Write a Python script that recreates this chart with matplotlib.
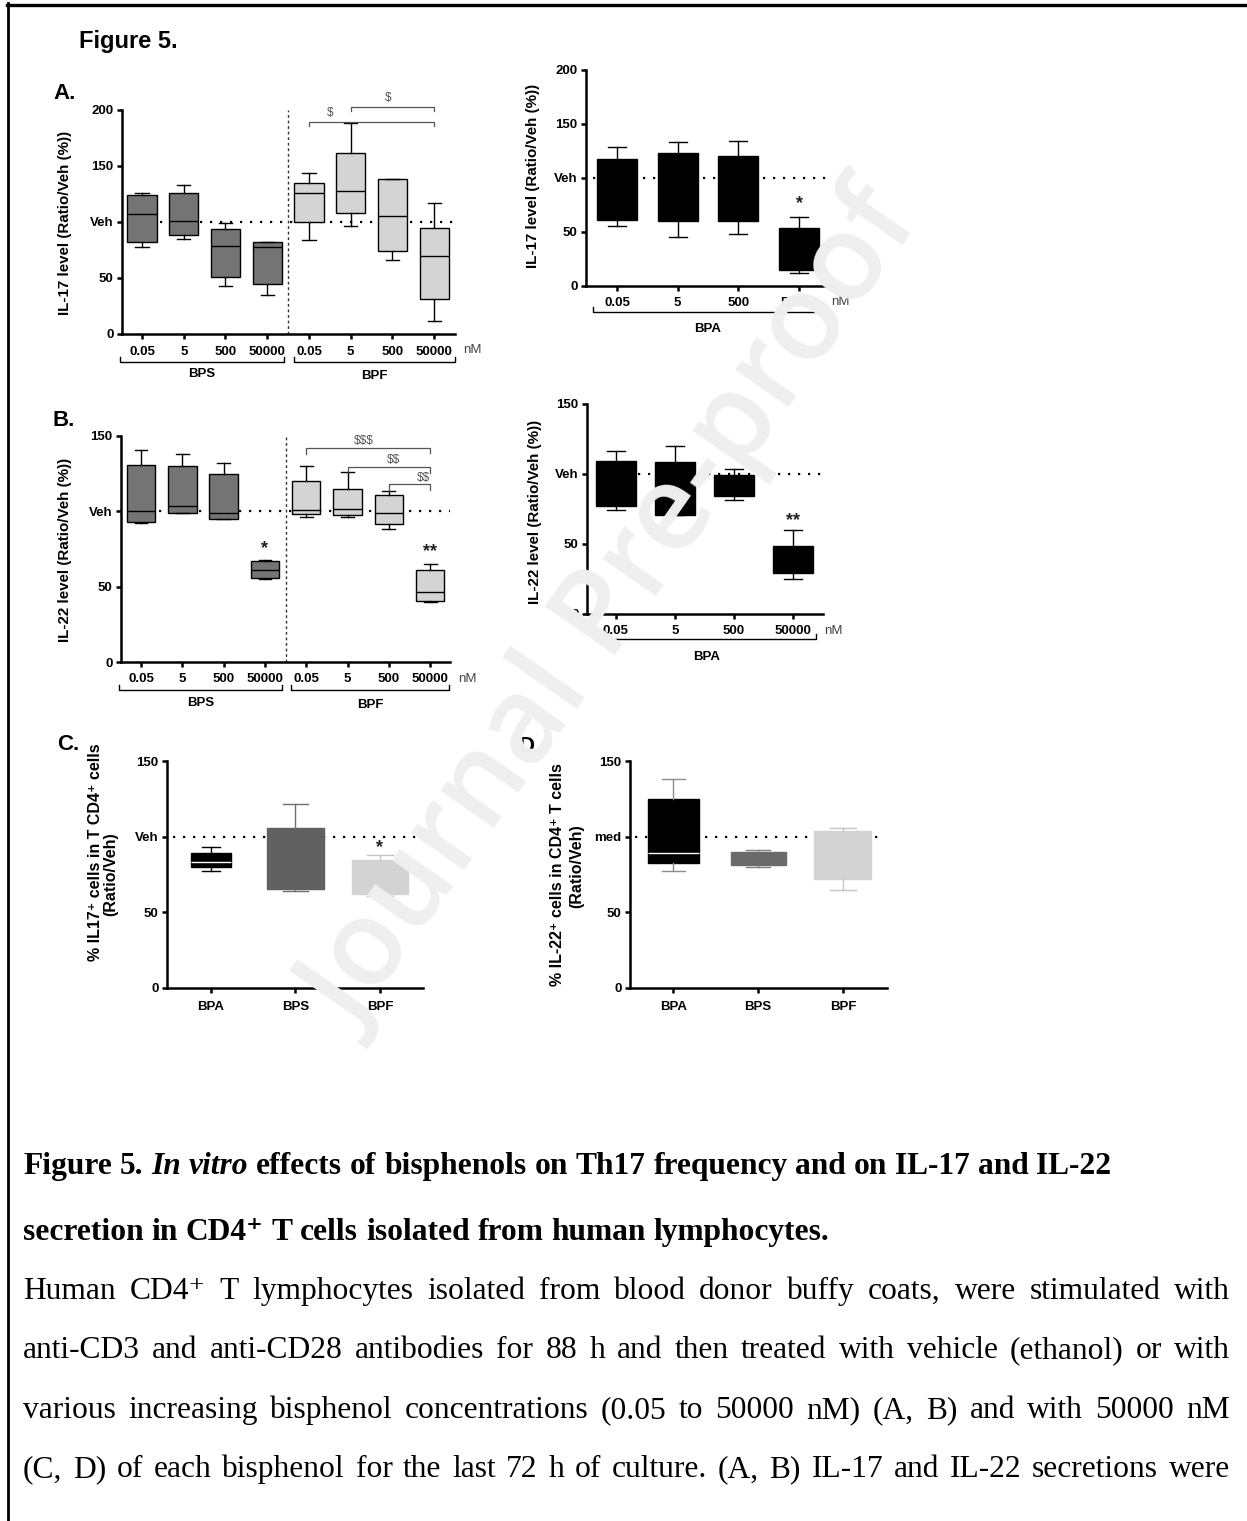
import matplotlib
matplotlib.use('Agg')
import matplotlib.pyplot as plt
import matplotlib.transforms as mtransforms
from matplotlib.lines import Line2D

# ---------------- data ----------------
conc_labels = ['0.05', '5', '500', '50000']
groups_C = ['BPA', 'BPS', 'BPF']

# Panel A: IL-17 (Ratio/Veh %), BPS and BPF
A_BPS_lo = [78, 85, 43, 35]
A_BPS_q1 = [82, 88, 51, 45]
A_BPS_med = [107, 101, 79, 78]
A_BPS_q3 = [124, 126, 94, 82]
A_BPS_hi = [126, 133, 99, 82]

A_BPF_lo = [84, 96, 66, 12]
A_BPF_q1 = [100, 108, 74, 31]
A_BPF_med = [126, 128, 105, 70]
A_BPF_q3 = [135, 162, 138, 95]
A_BPF_hi = [144, 188, 138, 117]

# Panel A right: IL-17, BPA
A_BPA_lo = [56, 45, 48, 12.5]
A_BPA_q1 = [61, 60, 60, 14.5]
A_BPA_med = [95, 92, 94, 30]
A_BPA_q3 = [118, 123, 120, 54]
A_BPA_hi = [129, 133, 134, 64]

# Panel B: IL-22, BPS and BPF
B_BPS_lo = [92, 99, 95, 55]
B_BPS_q1 = [93, 99, 95, 56]
B_BPS_med = [100, 103.5, 99, 61]
B_BPS_q3 = [131, 130, 125, 67]
B_BPS_hi = [141, 138, 132, 68]

B_BPF_lo = [96.5, 96, 88, 39.5]
B_BPF_q1 = [98, 97.5, 91.5, 40.3]
B_BPF_med = [101, 101.5, 98.7, 46.7]
B_BPF_q3 = [120.4, 115, 110.8, 60.8]
B_BPF_hi = [130, 126, 113.7, 65]

# Panel B right: IL-22, BPA
B_BPA_lo = [74, 70.4, 81.6, 25]
B_BPA_q1 = [77.5, 70.4, 84, 29.6]
B_BPA_med = [95, 90, 92, 38]
B_BPA_q3 = [109.5, 108.5, 99.2, 48.4]
B_BPA_hi = [116.4, 119.7, 103.7, 60.3]

# Panel C: % IL17+ cells
C_lo = [77, 64, 61]
C_q1 = [79.7, 65.2, 62]
C_med = [83, 66, 75]
C_q3 = [89.4, 105.5, 84.8]
C_hi = [93.4, 121.8, 88]

# Panel D: % IL-22+ cells
D_lo = [77, 79.7, 64.8]
D_q1 = [82.4, 81, 72.3]
D_med = [89.4, 85, 90]
D_q3 = [125.2, 89.6, 103.7]
D_hi = [138.4, 91, 106]

# significance annotations: (x_start, x_end, bracket_y, left_drop, right_drop, text, text_x)
A_sig = [(5, 8, 189.6, 186, 186, '$', 5.5), (6, 8, 203, 199, 199, '$', 6.9)]
B_sig = [(5, 8, 142, 138, 138.7, '$$$', 6.4), (6, 8, 129.4, 126, 125.4, '$$', 7.1),
         (7, 8, 117.9, 113.7, 114, '$$', 7.85)]

# ---------------- figure ----------------
W, H = 1247, 1521
fig = plt.figure(figsize=(W / 100, H / 100), dpi=100)
fig.patch.set_facecolor('white')

SANS = ['Liberation Sans', 'DejaVu Sans']
SERIF = ['Liberation Serif', 'DejaVu Serif']


def fx(px):
    return px / W


def fy(py):
    return 1 - py / H


DARK = '#747474'
LIGHT = '#d4d4d4'


def make_ax(x0, x1, ytop, ybot, xlim, ylim, yticks, yticklabels):
    ax = fig.add_axes([fx(x0), fy(ybot), fx(x1) - fx(x0), fy(ytop) - fy(ybot)])
    ax.set_xlim(*xlim)
    ax.set_ylim(*ylim)
    for s in ['top', 'right']:
        ax.spines[s].set_visible(False)
    for s in ['left', 'bottom']:
        ax.spines[s].set_linewidth(1.8)
    ax.set_yticks(yticks)
    ax.set_yticklabels(yticklabels, fontfamily=SANS, fontweight='bold', fontsize=9.5)
    ax.tick_params(axis='both', direction='out', length=3.6, width=1.8, pad=2.5)
    ax.patch.set_alpha(0)
    return ax


def draw_box(ax, pos, lo, q1, med, q3, hi, face, edge, medc, whc, width, lw=1.0):
    stats = [dict(whislo=lo, q1=q1, med=med, q3=q3, whishi=hi, fliers=[])]
    ax.bxp(stats, positions=[pos], widths=width, patch_artist=True, showfliers=False,
           capwidths=width * 0.45, manage_ticks=False, zorder=3,
           boxprops=dict(facecolor=face, edgecolor=edge, linewidth=lw),
           medianprops=dict(color=medc, linewidth=lw, solid_capstyle='butt'),
           whiskerprops=dict(color=whc, linewidth=lw),
           capprops=dict(color=whc, linewidth=lw))


def xlabels(ax, xs, labels, ypx, **kw):
    tr = mtransforms.blended_transform_factory(ax.transData, fig.transFigure)
    ax.set_xticks(xs)
    ax.set_xticklabels([])
    for x, l in zip(xs, labels):
        ax.text(x, fy(ypx), l, transform=tr, ha='center', va='center', clip_on=False,
                fontfamily=SANS, fontweight='bold', fontsize=9.5, **kw)


def group_bracket(ax, xa, xb, ypx, label, label_ypx, up=5):
    tr = mtransforms.blended_transform_factory(ax.transData, fig.transFigure)
    ax.plot([xa, xa, xb, xb], [fy(ypx - up), fy(ypx), fy(ypx), fy(ypx - up)], transform=tr,
            color='black', lw=1.0, clip_on=False)
    ax.text((xa + xb) / 2, fy(label_ypx), label, transform=tr, ha='center', va='center',
            fontfamily=SANS, fontweight='bold', fontsize=9.5, clip_on=False)


def unit_label(ax, x, ypx, text='nM'):
    tr = mtransforms.blended_transform_factory(ax.transData, fig.transFigure)
    ax.text(x, fy(ypx), text, transform=tr, ha='center', va='center', fontfamily=SANS,
            fontsize=9.5, color='#444444', clip_on=False)


def veh_line(ax, x0, x1, y=100):
    ax.plot([x0, x1], [y, y], color='black', lw=1.6, ls=(0, (1, 3.5)), clip_on=False, zorder=1)


def sig(ax, items, off_pts, color='#555555'):
    for xa, xb, y, ya, yb, t, tx in items:
        ax.plot([xa, xa, xb, xb], [ya, y, y, yb], color=color, lw=0.9, clip_on=False, zorder=4)
        ax.annotate(t, (tx, y), xytext=(0, off_pts), textcoords='offset points', ha='center',
                    va='center', fontsize=8.5, color=color, fontfamily=SANS,
                    annotation_clip=False, parse_math=False)


def star(ax, x, y, t):
    ax.text(x, y, t, ha='center', va='center', fontsize=13, fontfamily=SANS,
            fontweight='bold', color='#222222', clip_on=False)


pos8 = [1, 2, 3, 4, 5, 6, 7, 8]
pos4 = [1, 2, 3, 4]
pos3 = [1, 2, 3]

# ---- Panel A left ----
axA = make_ax(122, 455, 110, 334, (0.52, 8.5), (0, 200), [0, 50, 100, 150, 200],
              ['0', '50', 'Veh', '150', '200'])
veh_line(axA, 0.7, 8.63)
for i in range(4):
    draw_box(axA, pos8[i], A_BPS_lo[i], A_BPS_q1[i], A_BPS_med[i], A_BPS_q3[i], A_BPS_hi[i],
             DARK, 'black', 'black', 'black', 0.7)
    draw_box(axA, pos8[i + 4], A_BPF_lo[i], A_BPF_q1[i], A_BPF_med[i], A_BPF_q3[i], A_BPF_hi[i],
             LIGHT, 'black', 'black', 'black', 0.7)
axA.axvline(4.5, color='#333333', lw=1.0, ls=(0, (2, 2)), zorder=1)
xlabels(axA, pos8, conc_labels + conc_labels, 352)
group_bracket(axA, 0.47, 4.4, 362, 'BPS', 374)
group_bracket(axA, 4.63, 8.5, 362, 'BPF', 376)
unit_label(axA, 8.91, 350)
sig(axA, A_sig, 6.5)

# ---- Panel A right ----
axAr = make_ax(586, 833, 70, 286, (0.49, 4.56), (0, 200), [0, 50, 100, 150, 200],
               ['0', '50', 'Veh', '150', '200'])
veh_line(axAr, 0.6, 4.48)
for i in range(4):
    draw_box(axAr, pos4[i], A_BPA_lo[i], A_BPA_q1[i], A_BPA_med[i], A_BPA_q3[i], A_BPA_hi[i],
             'black', 'black', 'black', 'black', 0.66)
xlabels(axAr, pos4, conc_labels, 303)
group_bracket(axAr, 0.6, 4.4, 312, 'BPA', 329)
unit_label(axAr, 4.68, 302)
star(axAr, 4, 76, '*')

# ---- Panel B left ----
axB = make_ax(121, 450, 436, 662, (0.516, 8.48), (0, 150), [0, 50, 100, 150],
              ['0', '50', 'Veh', '150'])
veh_line(axB, 0.7, 8.48)
for i in range(4):
    draw_box(axB, pos8[i], B_BPS_lo[i], B_BPS_q1[i], B_BPS_med[i], B_BPS_q3[i], B_BPS_hi[i],
             DARK, 'black', 'black', 'black', 0.69)
    draw_box(axB, pos8[i + 4], B_BPF_lo[i], B_BPF_q1[i], B_BPF_med[i], B_BPF_q3[i], B_BPF_hi[i],
             LIGHT, 'black', 'black', 'black', 0.69)
axB.axvline(4.5, color='#333333', lw=1.0, ls=(0, (2, 2)), zorder=1)
xlabels(axB, pos8, conc_labels + conc_labels, 679)
group_bracket(axB, 0.47, 4.41, 690, 'BPS', 703)
group_bracket(axB, 4.63, 8.46, 690, 'BPF', 705)
unit_label(axB, 8.89, 679)
sig(axB, B_sig, 4.8)
star(axB, 4, 75, '*')
star(axB, 8, 73.5, '**')

# ---- Panel B right ----
axBr = make_ax(587, 823, 404, 614, (0.51, 4.51), (0, 150), [0, 50, 100, 150],
               ['0', '50', 'Veh', '150'])
veh_line(axBr, 0.7, 4.47)
for i in range(4):
    draw_box(axBr, pos4[i], B_BPA_lo[i], B_BPA_q1[i], B_BPA_med[i], B_BPA_q3[i], B_BPA_hi[i],
             'black', 'black', 'black', 'black', 0.68)
xlabels(axBr, pos4, conc_labels, 631)
group_bracket(axBr, 0.68, 4.39, 639, 'BPA', 657)
unit_label(axBr, 4.68, 631)
star(axBr, 4, 66.5, '**')

# ---- Panel C ----
axC = make_ax(167, 423, 761, 988, (0.48, 3.51), (0, 150), [0, 50, 100, 150],
              ['0', '50', 'Veh', '150'])
veh_line(axC, 0.55, 3.51)
C_face = ['black', '#606060', '#d3d3d3']
C_med_col = ['white', '#606060', '#d3d3d3']
C_wh_col = ['black', '#707070', '#c4c4c4']
C_width = [0.47, 0.67, 0.67]
for i in range(3):
    draw_box(axC, pos3[i], C_lo[i], C_q1[i], C_med[i], C_q3[i], C_hi[i],
             C_face[i], C_face[i], C_med_col[i], C_wh_col[i], C_width[i])
xlabels(axC, pos3, groups_C, 1007)
star(axC, 3, 93, '*')

# ---- Panel D ----
axD = make_ax(630, 887, 761, 988, (0.49, 3.52), (0, 150), [0, 50, 100, 150],
              ['0', '50', 'med', '150'])
veh_line(axD, 0.55, 3.47)
D_face = ['black', '#6a6a6a', '#d3d3d3']
D_med_col = ['white', '#6a6a6a', '#d3d3d3']
D_wh_col = ['#8c8c8c', '#808080', '#c4c4c4']
D_width = [0.6, 0.65, 0.67]
for i in range(3):
    draw_box(axD, pos3[i], D_lo[i], D_q1[i], D_med[i], D_q3[i], D_hi[i],
             D_face[i], D_face[i], D_med_col[i], D_wh_col[i], D_width[i])
xlabels(axD, pos3, groups_C, 1007)

# ---- y labels ----
ylab_kw = dict(rotation=90, ha='center', va='center', fontfamily=SANS, fontweight='bold', fontsize=10.9)
ylab2_kw = dict(ylab_kw, fontsize=11.5)
fig.text(fx(65), fy(223), 'IL-17 level (Ratio/Veh (%))', **ylab_kw)
fig.text(fx(533), fy(176), 'IL-17 level (Ratio/Veh (%))', **ylab_kw)
fig.text(fx(65), fy(550), 'IL-22 level (Ratio/Veh (%))', **ylab_kw)
fig.text(fx(535), fy(512), 'IL-22 level (Ratio/Veh (%))', **ylab_kw)
fig.text(fx(95), fy(852), '% IL17⁺ cells in T CD4⁺ cells', **ylab2_kw)
fig.text(fx(111), fy(874), '(Ratio/Veh)', **ylab2_kw)
fig.text(fx(557), fy(875), '% IL-22⁺ cells in CD4⁺ T cells', **ylab2_kw)
fig.text(fx(577), fy(866), '(Ratio/Veh)', **ylab2_kw)

# ---- panel letters ----
plab = dict(ha='left', va='baseline', fontfamily=SANS, fontweight='bold', fontsize=16)
fig.text(fx(79), fy(48), 'Figure 5.', ha='left', va='baseline', fontfamily=SANS,
         fontweight='bold', fontsize=17)
fig.text(fx(53), fy(99), 'A.', **plab)
fig.text(fx(53), fy(426), 'B.', **plab)
fig.text(fx(57), fy(750), 'C.', **plab)
fig.text(fx(518), fy(752), 'D.', **plab)

# ---- caption ----
renderer = fig.canvas.get_renderer()
CAP_FS = 22.7


def style_kw(st):
    kw = dict(fontfamily=SERIF, fontsize=CAP_FS, parse_math=False)
    if 'b' in st:
        kw['fontweight'] = 'bold'
    if 'i' in st:
        kw['fontstyle'] = 'italic'
    return kw


def measure(s, st):
    t = fig.text(0, 0, s, **style_kw(st))
    w = t.get_window_extent(renderer).width
    t.remove()
    return w


def draw_caption_line(words, ybase, x0=23, x1=1230, justify=False):
    widths = [measure(w, st) for w, st in words]
    if justify and len(words) > 1:
        gap = (x1 - x0 - sum(widths)) / (len(words) - 1)
    else:
        gap = measure('a a', words[0][1]) - measure('aa', words[0][1])
    x = x0
    for (w, st), wd in zip(words, widths):
        fig.text(fx(x), fy(ybase), w, ha='left', va='baseline', **style_kw(st))
        x += wd + gap


def words_of(line, st, special=None):
    special = special or {}
    return [(w, special.get(w, st)) for w in line.split(' ')]


cap1 = 'Figure 5. In vitro effects of bisphenols on Th17 frequency and on IL-17 and IL-22'
cap2 = 'secretion in CD4⁺ T cells isolated from human lymphocytes.'
body = ['Human CD4⁺ T lymphocytes isolated from blood donor buffy coats, were stimulated with',
        'anti-CD3 and anti-CD28 antibodies for 88 h and then treated with vehicle (ethanol) or with',
        'various increasing bisphenol concentrations (0.05 to 50000 nM) (A, B) and with 50000 nM',
        '(C, D) of each bisphenol for the last 72 h of culture. (A, B) IL-17 and IL-22 secretions were']

draw_caption_line(words_of(cap1, 'b', {'In': 'bi', 'vitro': 'bi'}), 1174)
draw_caption_line(words_of(cap2, 'b'), 1240)
for line, yb in zip(body, [1299, 1358, 1418, 1477]):
    draw_caption_line(words_of(line, 'n'), yb, justify=True)

# ---- page border ----
fig.add_artist(Line2D([fx(8), fx(8)], [fy(3), 0], color='black', lw=2.0, transform=fig.transFigure))
fig.add_artist(Line2D([fx(7), 1], [fy(4.5), fy(4.5)], color='black', lw=2.4, transform=fig.transFigure))

# ---- watermark ----
fig.text(fx(615), fy(614), 'Journal Pre-proof', rotation=55, fontsize=86, color='#efefef',
         ha='center', va='center', fontweight='semibold',
         fontfamily=['Open Sans', 'DejaVu Sans'], zorder=100)

fig.savefig('out.png', dpi=100)
